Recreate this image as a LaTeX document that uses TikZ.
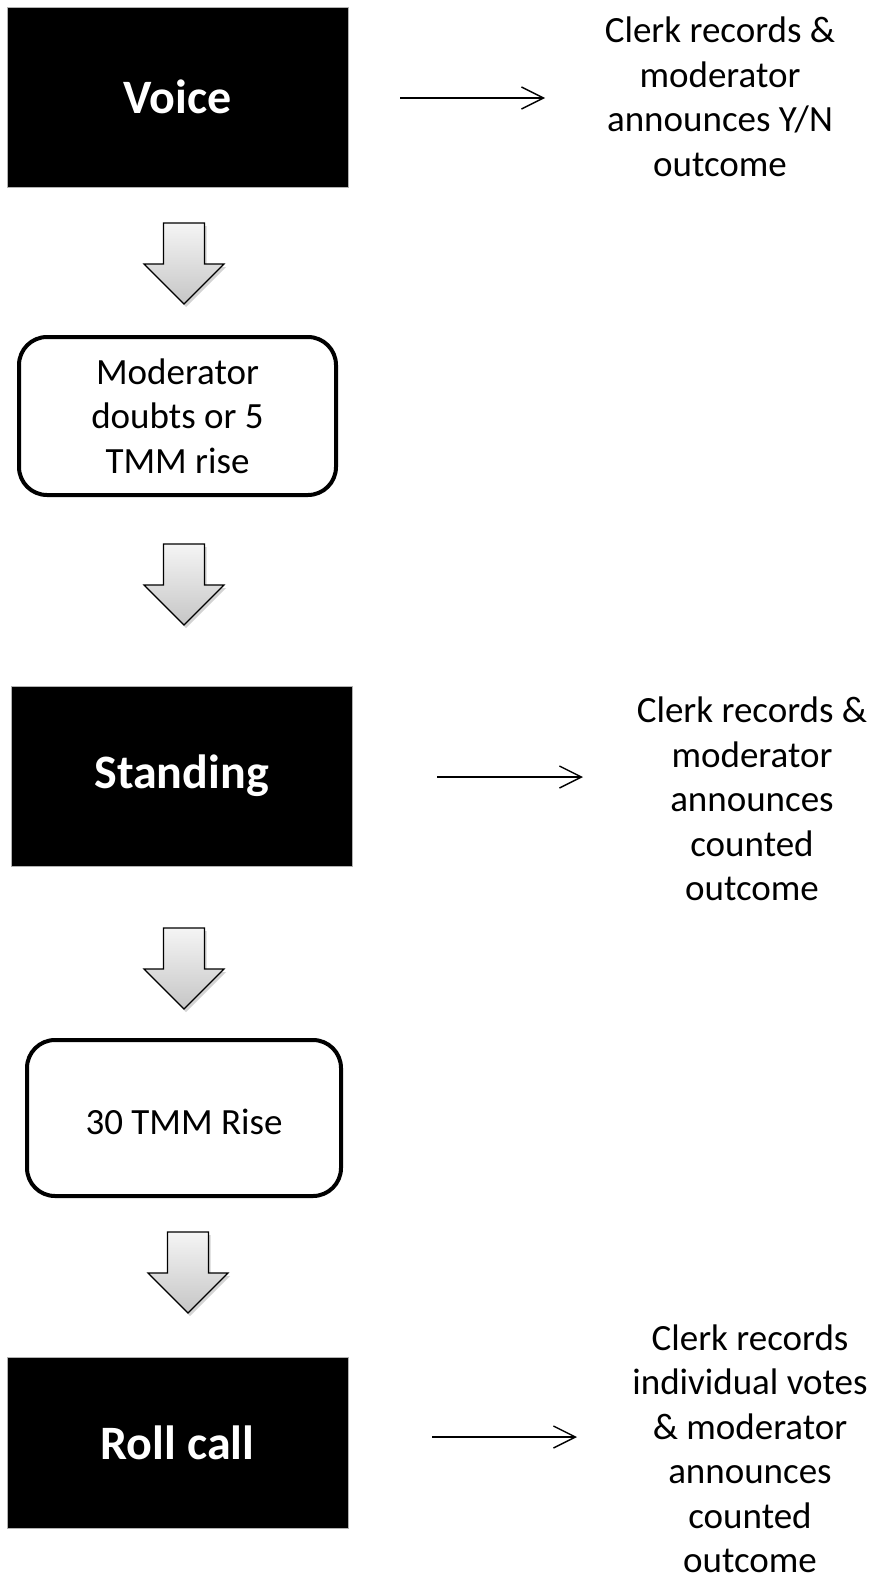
\documentclass[tikz,border=0pt]{standalone}
\usepackage{fontspec}
\setmainfont{Carlito}
\usetikzlibrary{arrows.meta,shadows}
\tikzset{
  downarr/.pic={
    \draw[line width=1.2pt, top color=gray!8, bottom color=gray!45,
          drop shadow={shadow xshift=2pt, shadow yshift=-3pt, opacity=.35}]
      (-20.5,0) -- (20.5,0) -- (20.5,41) -- (40,41) -- (0,81)
      -- (-40,41) -- (-20.5,41) -- cycle;
  }
}
\begin{document}
\begin{tikzpicture}[x=1pt, y=-1pt,
  votebox/.style={rectangle, fill=black, draw=gray!60, line width=0.8pt,
    text=white, font=\fontsize{48}{57}\selectfont\bfseries},
  condbox/.style={rectangle, rounded corners=28pt, draw=black, line width=4pt,
    align=center, font=\fontsize{37}{44.5}\selectfont},
  outtext/.style={align=center, inner sep=0pt, font=\fontsize{37}{44.5}\selectfont},
  resarr/.style={-{Straight Barb[length=22pt, width=22pt]}, line width=1.4pt}]
\useasboundingbox (0,0) rectangle (877,1581);
% voting stages
\node[votebox, minimum width=341pt, minimum height=180pt] (voice) at (177.5,97) {Voice};
\node[condbox, minimum width=317pt, minimum height=158pt] (doubt) at (177.5,416) {Moderator\\doubts or 5\\TMM rise};
\node[votebox, minimum width=341pt, minimum height=180pt] (stand) at (181.5,776) {Standing};
\node[condbox, minimum width=314pt, minimum height=156pt, text height=32pt, text depth=0pt] (rise) at (184,1118) {30 TMM Rise};
\node[votebox, minimum width=341pt, minimum height=171pt] (roll) at (177.5,1442.5) {Roll call};
% outcomes
\node[outtext] (out1) at (720,97) {Clerk records \&\\moderator\\announces Y/N\\outcome};
\node[outtext] (out2) at (752,799) {Clerk records \&\\moderator\\announces\\counted\\outcome};
\node[outtext] (out3) at (750,1449) {Clerk records\\individual votes\\\& moderator\\announces\\counted\\outcome};
% block arrows between stages
\pic at (184,223) {downarr};
\pic at (184,544) {downarr};
\pic at (184,928) {downarr};
\pic at (188,1232) {downarr};
% arrows to outcomes
\coordinate (r1s) at (400,98);
\coordinate (r1e) at (545,98);
\coordinate (r2s) at (437,777);
\coordinate (r2e) at (583,777);
\coordinate (r3s) at (432,1437);
\coordinate (r3e) at (577,1437);
\draw[resarr] (r1s) -- (r1e);
\draw[resarr] (r2s) -- (r2e);
\draw[resarr] (r3s) -- (r3e);
\end{tikzpicture}
\end{document}
